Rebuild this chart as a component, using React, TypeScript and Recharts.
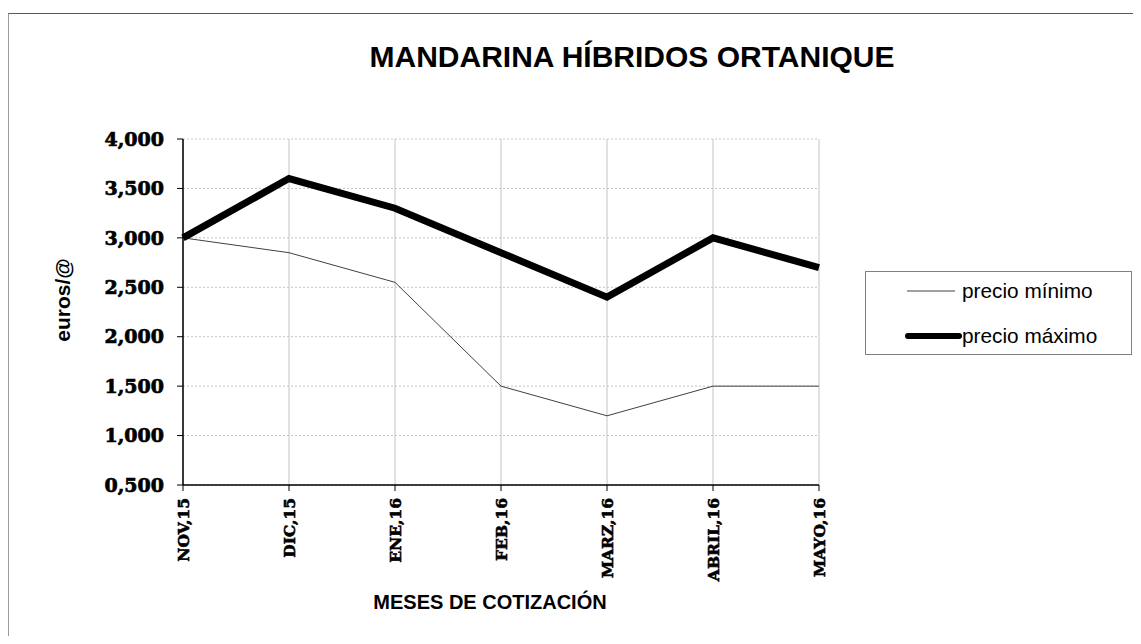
import { LineChart, Line, XAxis, YAxis, CartesianGrid, Legend } from 'recharts'

const months = ['NOV,15', 'DIC,15', 'ENE,16', 'FEB,16', 'MARZ,16', 'ABRIL,16', 'MAYO,16']
const precioMinimo = [3.0, 2.85, 2.55, 1.5, 1.2, 1.5, 1.5]
const precioMaximo = [3.0, 3.6, 3.3, 2.85, 2.4, 3.0, 2.7]
const yTicks = [0.5, 1, 1.5, 2, 2.5, 3, 3.5, 4]

const data = months.map((month, i) => ({
  month,
  min: precioMinimo[i],
  max: precioMaximo[i],
}))

const serif = '"DejaVu Serif", "Liberation Serif", serif'
const sans = '"Liberation Sans", Arial, sans-serif'

// labels drawn bottom-to-top under each tick
function MonthTick({ x, y, payload }: any) {
  return (
    <g transform={`translate(${x},${y})`}>
      <text
        transform="rotate(-90)"
        textAnchor="end"
        dy="0.36em"
        fontFamily={serif}
        fontSize={15.5}
        fontWeight="bold"
        fill="#000"
        stroke="#000"
        strokeWidth={0.6}
      >
        {payload.value}
      </text>
    </g>
  )
}

function LegendBox() {
  const row = (top: number, sample: JSX.Element, label: string) => (
    <div
      style={{
        position: 'absolute',
        left: 39,
        top,
        height: 24,
        display: 'flex',
        alignItems: 'center',
        whiteSpace: 'nowrap',
      }}
    >
      <svg width={57} height={10} style={{ display: 'block' }}>
        {sample}
      </svg>
      <span>{label}</span>
    </div>
  )
  return (
    <div
      style={{
        position: 'relative',
        width: 265,
        height: 82,
        border: '1px solid #808080',
        background: '#fff',
        fontFamily: sans,
        fontSize: 20.8,
        color: '#000',
        lineHeight: 1,
      }}
    >
      {row(7, <line x1={2} x2={50} y1={5} y2={5} stroke="#404040" strokeWidth={1} />, 'precio mínimo')}
      {row(52, <line x1={3} x2={54} y1={5} y2={5} stroke="#000" strokeWidth={6} strokeLinecap="round" />, 'precio máximo')}
    </div>
  )
}

function CenteredText({ x, y, size, rotate, children }: any) {
  return (
    <div
      style={{
        position: 'absolute',
        left: x,
        top: y,
        transform: `translate(-50%, -50%)${rotate ? ' rotate(-90deg)' : ''}`,
        fontFamily: sans,
        fontWeight: 'bold',
        fontSize: size,
        lineHeight: 1,
        whiteSpace: 'nowrap',
        color: '#000',
      }}
    >
      {children}
    </div>
  )
}

export default function App() {
  return (
    <div style={{ position: 'relative', width: 1125, height: 628 }}>
      <div
        style={{
          position: 'absolute',
          left: 0,
          top: 5,
          width: 1124,
          height: 623,
          borderTop: '1px solid #5a5a5a',
          borderLeft: '1px solid #9a9a9a',
        }}
      />
      <LineChart
        width={1125}
        height={628}
        data={data}
        margin={{ top: 131, right: 314, bottom: 0, left: 0 }}
      >
        <CartesianGrid horizontal={true} vertical={false} stroke="#c4c4c4" strokeDasharray="2 2" />
        <CartesianGrid horizontal={false} vertical={true} stroke="#c4c4c4" />
        <XAxis
          dataKey="month"
          interval={0}
          height={151}
          tickSize={6}
          tickMargin={7}
          tick={<MonthTick />}
          axisLine={{ stroke: '#000', strokeWidth: 1.5 }}
          tickLine={{ stroke: '#000' }}
        />
        <YAxis
          type="number"
          domain={[0.5, 4]}
          ticks={yTicks}
          width={175}
          tickSize={6}
          tickMargin={13}
          tickFormatter={(v: number) => v.toFixed(3).replace('.', ',')}
          tick={{ fontFamily: serif, fontSize: 19, fontWeight: 'bold', fill: '#000', stroke: '#000', strokeWidth: 0.7 }}
          axisLine={{ stroke: '#000', strokeWidth: 1.5 }}
          tickLine={{ stroke: '#000' }}
        />
        <Legend
          layout="horizontal"
          verticalAlign="middle"
          align="center"
          content={() => <LegendBox />}
          wrapperStyle={{ left: 857, top: 263, width: 267, height: 84 }}
        />
        <Line
          type="linear"
          dataKey="min"
          name="precio mínimo"
          stroke="#404040"
          strokeWidth={1}
          dot={false}
          isAnimationActive={false}
        />
        <Line
          type="linear"
          dataKey="max"
          name="precio máximo"
          stroke="#000"
          strokeWidth={7}
          dot={false}
          isAnimationActive={false}
        />
      </LineChart>
      <CenteredText x={624} y={49} size={30}>
        MANDARINA HÍBRIDOS ORTANIQUE
      </CenteredText>
      <CenteredText x={54} y={292} size={21} rotate>
        euros/@
      </CenteredText>
      <CenteredText x={482} y={594} size={20}>
        MESES DE COTIZACIÓN
      </CenteredText>
    </div>
  )
}
